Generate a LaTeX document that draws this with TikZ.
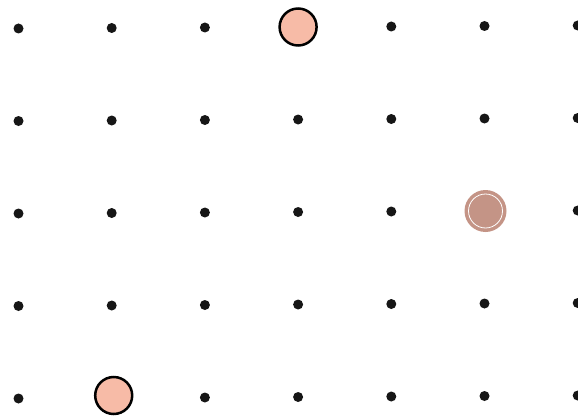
\documentclass[tikz,border=0pt]{standalone}
\usepackage{xcolor}
\usepackage{tikz}
\usetikzlibrary{positioning}
\definecolor{dotblack}{RGB}{22, 22, 22}
\definecolor{peach}{RGB}{247, 187, 167}
\definecolor{clay}{RGB}{196, 148, 134}

\begin{document}
\begin{tikzpicture}[x=1pt, y=-1pt,
    dot/.style={circle, fill=dotblack, inner sep=0pt, minimum size=10pt},
    peachmark/.style={circle, draw=black, line width=2.5pt, fill=peach, inner sep=0pt, minimum size=37pt},
    claymark/.style={circle, fill=clay, inner sep=0pt, minimum size=42pt}]
    \useasboundingbox (0,0) rectangle (578,420);
    % grid of dots
    \foreach \i in {0,...,6}{
        \foreach \j in {0,...,4}{
            \node[dot] (d-\i-\j) at ({18.5+93.2*\i},{28.5+92.5*\j-0.5*\i}) {};
        }
    }
    % marked points
    \node[peachmark] (top) at (d-3-0) {};
    \node[claymark] (mid) at ([xshift=1pt]d-5-2) {};
    \draw[white, line width=0.8pt] (mid.center) circle (17pt);
    \node[peachmark] (low) at ([xshift=2pt, yshift=2.5pt]d-1-4) {};
\end{tikzpicture}
\end{document}
